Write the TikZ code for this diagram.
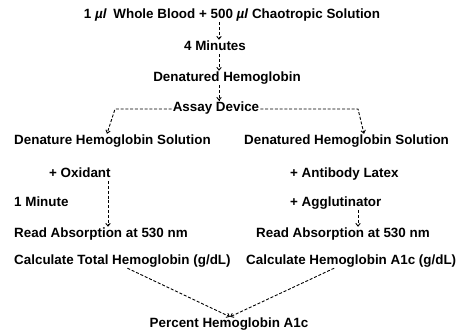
\documentclass[tikz,border=0pt]{standalone}
\usepackage{fontspec}
\setmainfont{Liberation Sans}
\usepackage{tikz}
\usetikzlibrary{arrows.meta, positioning, calc}

\begin{document}
\begin{tikzpicture}[x=1pt, y=-1pt,
    txt/.style={inner sep=1pt, text height=9.5pt, text depth=2.5pt, font=\fontsize{13.4}{15}\selectfont\bfseries},
    flow/.style={line width=0.9pt, dash pattern=on 3pt off 1.8pt, -{Straight Barb[length=2.8pt,width=4.5pt]}}]
  \useasboundingbox (0,0) rectangle (457,335);
  \coordinate (axis) at (219,0);
  \coordinate (lcol) at (108,0);
  \coordinate (rcol) at (358,0);
  \node[txt] (blood) at (232,15) {1 \textit{µl}\enspace Whole Blood + 500 \textit{µl} Chaotropic Solution};
  \node[txt] (four) at (215,47) {4 Minutes};
  \node[txt] (denat) at (227,78) {Denatured Hemoglobin};
  \node[txt] (assay) at (216,108) {Assay Device};
  \node[txt, anchor=west] (denL) at (13,141) {Denature Hemoglobin Solution};
  \node[txt, anchor=west] (denR) at (243,141) {Denatured Hemoglobin Solution};
  \node[txt, anchor=west] (oxid) at (48,174) {+ Oxidant};
  \node[txt, anchor=west] (antib) at (289,174) {+ Antibody Latex};
  \node[txt, anchor=west] (minute) at (13,203) {1 Minute};
  \node[txt, anchor=west] (aggl) at (289,203) {+ Agglutinator};
  \node[txt, anchor=west] (readL) at (13,234) {Read Absorption at 530 nm};
  \node[txt, anchor=west] (readR) at (255,234) {Read Absorption at 530 nm};
  \node[txt, anchor=west] (calcL) at (13,261) {Calculate Total Hemoglobin (g/dL)};
  \node[txt, anchor=west] (calcR) at (245,261) {Calculate Hemoglobin A1c (g/dL)};
  \node[txt] (pct) at (229,324) {Percent Hemoglobin A1c};
  \coordinate (meet) at ([xshift=1pt]pct.north);
  \coordinate (bendL) at (115,109);
  \coordinate (bendR) at (358,109);

  \draw[flow] (blood.south -| axis) -- (four.north -| axis);
  \draw[flow] (four.south -| axis) -- (denat.north -| axis);
  \draw[flow] (denat.south -| axis) -- (assay.north -| axis);
  \draw[flow] ([yshift=-1pt]assay.west) -- (bendL) -- ([xshift=-8pt]denL.north -| bendL);
  \draw[flow] ([yshift=-1pt]assay.east) -- (bendR) -- ([xshift=6pt]denR.north -| bendR);
  \draw[flow] (oxid.south -| lcol) -- (readL.north -| lcol);
  \draw[flow] (aggl.south -| rcol) -- (readR.north -| rcol);
  \draw[flow] ([xshift=5pt]calcL.south) -- (meet);
  \draw[flow] ([xshift=-17pt]calcR.south) -- (meet);
\end{tikzpicture}
\end{document}
